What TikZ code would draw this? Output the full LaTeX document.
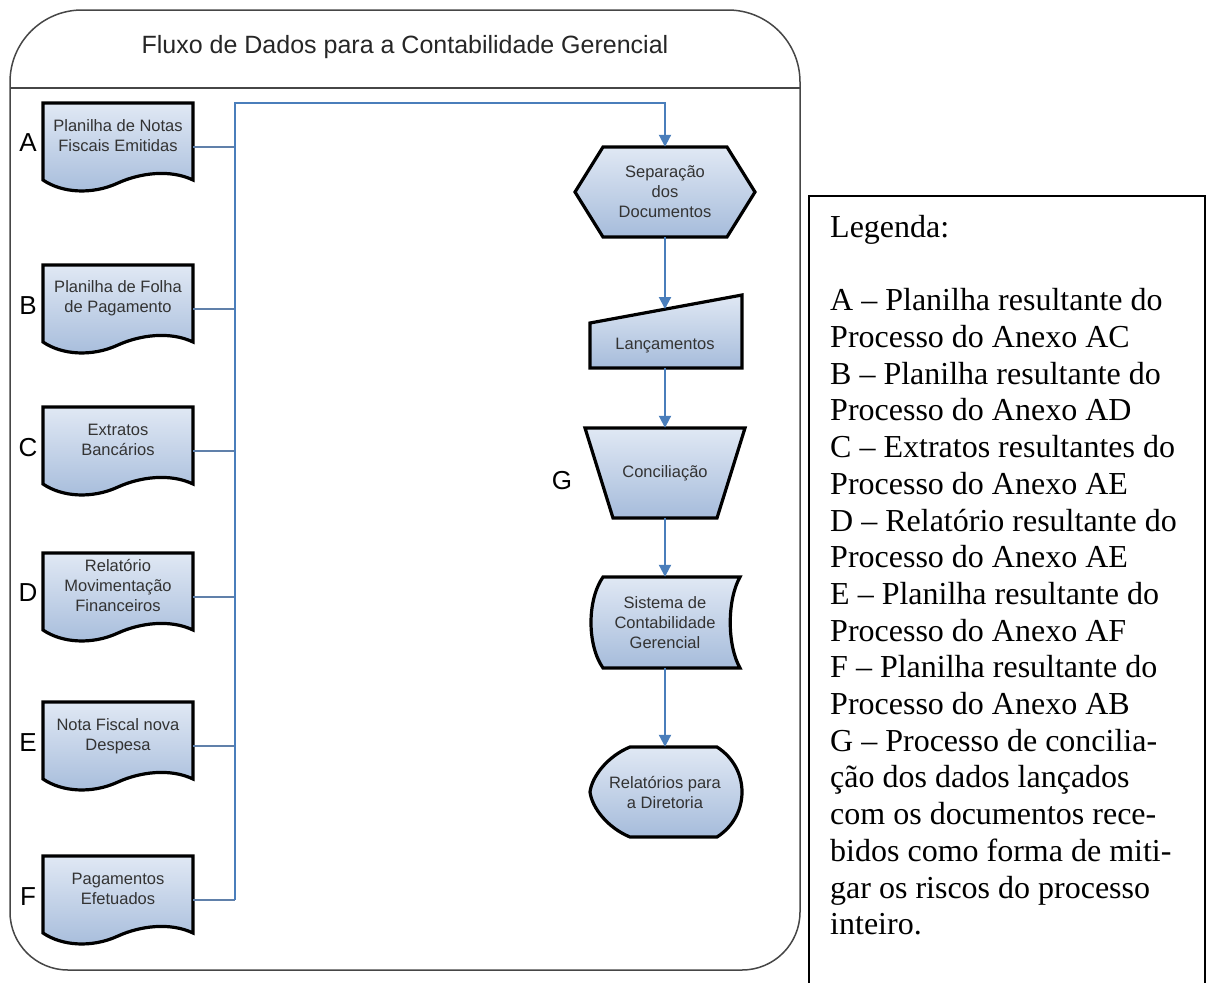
\documentclass[tikz,border=0pt]{standalone}
\usepackage{fontspec}
\setmainfont{Liberation Serif}
\newfontfamily\arialfont{Liberation Sans}
\usetikzlibrary{arrows.meta}
\definecolor{docTop}{RGB}{224,232,244}
\definecolor{docBot}{RGB}{166,188,219}
\definecolor{flowBlue}{RGB}{74,126,187}
\definecolor{stubBlue}{RGB}{96,128,170}
\definecolor{frameGray}{RGB}{70,70,70}

\begin{document}
\begin{tikzpicture}[x=1pt, y=-1pt,
    box/.style={draw=black, line width=3.2pt, top color=docTop, bottom color=docBot},
    txt/.style={font=\arialfont\fontsize{16.5}{20}\selectfont, text=black!80, align=center, inner sep=0pt},
    letter/.style={font=\arialfont\fontsize{26}{26}\selectfont, inner sep=0pt},
    frame/.style={draw=frameGray, line width=1.5pt},
    stub/.style={draw=stubBlue, line width=1.5pt},
    flow/.style={draw=flowBlue, line width=2pt, -{Triangle[length=12pt,width=12pt]}}]
    \useasboundingbox (0,0) rectangle (1208,983);

    \draw[frame, rounded corners=72] (10,500) -- (10,10) -- (800,10) [rounded corners=58] -- (800,970) -- (10,970) [rounded corners=72] -- cycle;
    \draw[frame] (10,88) -- (800,88);
    \node[font=\arialfont\fontsize{25}{25}\selectfont, text=black!85] (title) at (405,47) {Fluxo de Dados para a Contabilidade Gerencial};

    \path[box] (43,103) -- (193,103) -- (193,180) .. controls (170,169) and (140,173) .. (118,183) .. controls (92,195) and (62,193) .. (43,180) -- cycle;
    \node[txt] (docA) at (118,136) {Planilha de Notas\\Fiscais Emitidas};
    \node[letter] (lblA) at (28,143) {A};
    \path[box] (43,265) -- (193,265) -- (193,342) .. controls (170,331) and (140,335) .. (118,345) .. controls (92,357) and (62,355) .. (43,342) -- cycle;
    \node[txt] (docB) at (118,298) {Planilha de Folha\\de Pagamento};
    \node[letter] (lblB) at (28,306) {B};
    \path[box] (43,407) -- (193,407) -- (193,484) .. controls (170,473) and (140,477) .. (118,487) .. controls (92,499) and (62,497) .. (43,484) -- cycle;
    \node[txt] (docC) at (118,440) {Extratos\\Bancários};
    \node[letter] (lblC) at (28,448) {C};
    \path[box] (43,553) -- (193,553) -- (193,630) .. controls (170,619) and (140,623) .. (118,633) .. controls (92,645) and (62,643) .. (43,630) -- cycle;
    \node[txt] (docD) at (118,585) {Relatório\\Movimentação\\Financeiros};
    \node[letter] (lblD) at (28,593) {D};
    \path[box] (43,702) -- (193,702) -- (193,779) .. controls (170,768) and (140,772) .. (118,782) .. controls (92,794) and (62,792) .. (43,779) -- cycle;
    \node[txt] (docE) at (118,736) {Nota Fiscal nova\\Despesa};
    \node[letter] (lblE) at (28,743) {E};
    \path[box] (43,856) -- (193,856) -- (193,933) .. controls (170,922) and (140,926) .. (118,936) .. controls (92,948) and (62,946) .. (43,933) -- cycle;
    \node[txt] (docF) at (118,889) {Pagamentos\\Efetuados};
    \node[letter] (lblF) at (28,897) {F};

    \coordinate (outA) at (193,147);
    \coordinate (outB) at (193,309);
    \coordinate (outC) at (193,451);
    \coordinate (outD) at (193,597);
    \coordinate (outE) at (193,746);
    \coordinate (outF) at (193,900);
    \coordinate (jA) at (235,147);
    \coordinate (jB) at (235,309);
    \coordinate (jC) at (235,451);
    \coordinate (jD) at (235,597);
    \coordinate (jE) at (235,746);
    \coordinate (jF) at (235,900);
    \coordinate (busTop) at (235,103);
    \coordinate (turn) at (665,103);

    \path[box] (575,192) -- (603,147) -- (727,147) -- (755,192) -- (727,237) -- (603,237) -- cycle;
    \node[txt, minimum height=90pt] (sep) at (665,192) {Separação\\dos\\Documentos};
    \path[box] (590,323) -- (742,295) -- (742,368) -- (590,368) -- cycle;
    \node[txt] (lanc) at (665,346) {Lançamentos};
    \coordinate (lancIn) at (665,309);
    \coordinate (lancOut) at (665,368);
    \path[box] (585,428) -- (745,428) -- (717,518) -- (613,518) -- cycle;
    \node[txt, minimum height=90pt] (conc) at (665,473) {Conciliação};
    \node[letter] (lblG) at (562,481) {G};
    \path[box] (603,577) -- (740,577) .. controls (727,600) and (727,645) .. (740,668) -- (603,668) .. controls (587,645) and (587,600) .. (603,577) -- cycle;
    \node[txt, minimum height=91pt] (sist) at (665,622.5) {Sistema de\\Contabilidade\\Gerencial};
    \path[box] (630,747) -- (717,747) .. controls (734,758) and (742,775) .. (742,792) .. controls (742,809) and (734,826) .. (717,837) -- (630,837) .. controls (608,828) and (592,808) .. (590,792) .. controls (592,776) and (608,756) .. (630,747) -- cycle;
    \node[txt, minimum height=90pt] (rel) at (665,792) {Relatórios para\\a Diretoria};

    \draw[stub] (outA) -- (jA);
    \draw[stub] (outB) -- (jB);
    \draw[stub] (outC) -- (jC);
    \draw[stub] (outD) -- (jD);
    \draw[stub] (outE) -- (jE);
    \draw[stub] (outF) -- (jF);
    \draw[flow] (jF) -- (busTop) -- (turn) -- (sep.north);
    \draw[flow] (sep.south) -- (lancIn);
    \draw[flow] (lancOut) -- (conc.north);
    \draw[flow] (conc.south) -- (sist.north);
    \draw[flow] (sist.south) -- (rel.north);

    \draw[line width=2pt] (809,990) -- (809,196) -- (1205,196) -- (1205,990);
    \node[anchor=north west, inner sep=0pt, align=left, font=\fontsize{32}{36.7}\selectfont] (legenda) at (830,215) {Legenda:\\[36.7pt]
    A – Planilha resultante do\\
    Processo do Anexo AC\\
    B – Planilha resultante do\\
    Processo do Anexo AD\\
    C – Extratos resultantes do\\
    Processo do Anexo AE\\
    D – Relatório resultante do\\
    Processo do Anexo AE\\
    E – Planilha resultante do\\
    Processo do Anexo AF\\
    F – Planilha resultante do\\
    Processo do Anexo AB\\
    G – Processo de concilia-\\
    ção dos dados lançados\\
    com os documentos rece-\\
    bidos como forma de miti-\\
    gar os riscos do processo\\
    inteiro.};
\end{tikzpicture}
\end{document}
